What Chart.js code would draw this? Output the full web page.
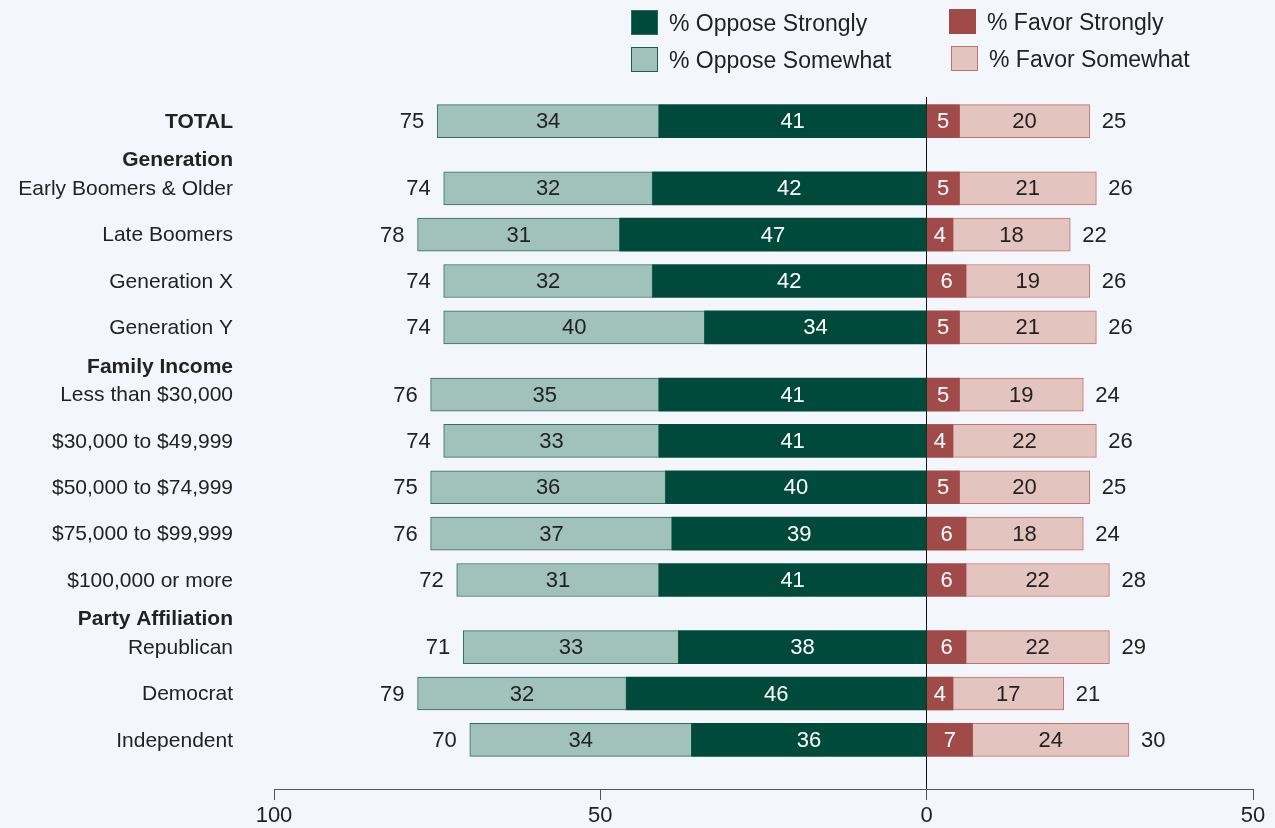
<!DOCTYPE html>
<html>
<head>
<meta charset="utf-8">
<script src="https://cdn.jsdelivr.net/npm/chart.js@4"></script>
<style>
  body { margin: 0; background: #f3f6fb; font-family: "Liberation Sans", Arial, sans-serif; }
  #wrap { position: relative; width: 1275px; height: 828px; }
  #grafico { position: absolute; left: 0; top: 0; }
  .leg { position: absolute; font-size: 23px; color: #222; white-space: nowrap; line-height: 26px; }
  .leg span { display: inline-block; width: 27px; height: 25px; vertical-align: top; margin-right: 11px; box-sizing: border-box; }
</style>
</head>
<body>
<div id="wrap">
  <canvas id="grafico" width="1275" height="828"></canvas>
  <div class="leg" style="left:631px; top:10px;"><span style="background:#004a3b; border:1px solid #2e6b5a;"></span>% Oppose Strongly</div>
  <div class="leg" style="left:631px; top:47px;"><span style="background:#a0c2bb; border:1px solid #1f5e4d;"></span>% Oppose Somewhat</div>
  <div class="leg" style="left:949px; top:9px;"><span style="background:#a04a4a; border:1px solid #a04a4a;"></span>% Favor Strongly</div>
  <div class="leg" style="left:951px; top:46px;"><span style="background:#e3c4bf; border:1px solid #c07370;"></span>% Favor Somewhat</div>
</div>
<script>
const categorias = ['TOTAL', 'Early Boomers & Older', 'Late Boomers', 'Generation X', 'Generation Y',
  'Less than $30,000', '$30,000 to $49,999', '$50,000 to $74,999', '$75,000 to $99,999', '$100,000 or more',
  'Republican', 'Democrat', 'Independent'];
// group headings and the row they sit above
const grupos = [
  { titulo: 'Generation', antes: 1 },
  { titulo: 'Family Income', antes: 5 },
  { titulo: 'Party Affiliation', antes: 10 }
];
const opoeForte = [41, 42, 47, 42, 34, 41, 41, 40, 39, 41, 38, 46, 36];
const opoeAlgo = [34, 32, 31, 32, 40, 35, 33, 36, 37, 31, 33, 32, 34];
const favorForte = [5, 5, 4, 6, 5, 5, 4, 5, 6, 6, 6, 4, 7];
const favorAlgo = [20, 21, 18, 19, 21, 19, 22, 20, 18, 22, 22, 17, 24];
const totalOpoe = [75, 74, 78, 74, 74, 76, 74, 75, 76, 72, 71, 79, 70];
const totalFavor = [25, 26, 22, 26, 26, 24, 26, 25, 24, 28, 29, 21, 30];
const ticksX = [-100, -50, 0, 50];

// row positions: a bit more room where a heading starts
let pos = 0;
const posicoes = categorias.map((c, i) => {
  if (i > 0) pos += grupos.some(g => g.antes === i) ? 1.45 : 1;
  return pos;
});

function pontos(valores, sinal) {
  return valores.map((v, i) => ({ x: sinal * v, y: posicoes[i] }));
}

const fonte = '"Liberation Sans", Arial, sans-serif';

const rotulos = {
  id: 'rotulos',
  afterDatasetsDraw(chart) {
    const ctx = chart.ctx;
    const yScale = chart.scales.y;
    ctx.save();
    ctx.textBaseline = 'middle';
    // values inside the segments
    chart.data.datasets.forEach((ds, d) => {
      const meta = chart.getDatasetMeta(d);
      meta.data.forEach((bar, i) => {
        ctx.font = '22px ' + fonte;
        ctx.fillStyle = ds.corTexto;
        ctx.textAlign = 'center';
        ctx.fillText(String(Math.abs(ds.data[i].x)), (bar.x + bar.base) / 2, bar.y + 1);
      });
    });
    // totals at both ends
    const esq = chart.getDatasetMeta(1).data;
    const dir = chart.getDatasetMeta(3).data;
    ctx.fillStyle = '#222';
    ctx.font = '22px ' + fonte;
    esq.forEach((bar, i) => {
      ctx.textAlign = 'right';
      ctx.fillText(String(totalOpoe[i]), bar.x - 13, bar.y + 1);
    });
    dir.forEach((bar, i) => {
      ctx.textAlign = 'left';
      ctx.fillText(String(totalFavor[i]), bar.x + 12, bar.y + 1);
    });
    // row labels
    categorias.forEach((c, i) => {
      ctx.textAlign = 'right';
      ctx.font = (i === 0 ? 'bold ' : '') + '21px ' + fonte;
      ctx.fillText(c, 233, yScale.getPixelForValue(posicoes[i]) + 1);
    });
    grupos.forEach(g => {
      ctx.textAlign = 'right';
      ctx.font = 'bold 21px ' + fonte;
      ctx.fillText(g.titulo, 233, yScale.getPixelForValue(posicoes[g.antes] - 0.62) + 1);
    });
    ctx.restore();
  }
};

const grafico = document.getElementById('grafico');
new Chart(grafico, {
  type: 'bar',
  data: {
    datasets: [
      { label: '% Oppose Strongly', data: pontos(opoeForte, -1), backgroundColor: '#004a3b', borderColor: '#004a3b', borderWidth: 0, corTexto: '#fff' },
      { label: '% Oppose Somewhat', data: pontos(opoeAlgo, -1), backgroundColor: '#a0c2bb', borderColor: '#2e6e5c', borderWidth: 1, borderSkipped: false, corTexto: '#222' },
      { label: '% Favor Strongly', data: pontos(favorForte, 1), backgroundColor: '#a04a4a', borderColor: '#a04a4a', borderWidth: 0, corTexto: '#fff' },
      { label: '% Favor Somewhat', data: pontos(favorAlgo, 1), backgroundColor: '#e3c4bf', borderColor: '#c07370', borderWidth: 1, borderSkipped: false, corTexto: '#222' }
    ]
  },
  options: {
    indexAxis: 'y',
    responsive: false,
    animation: false,
    barThickness: 33,
    layout: { padding: { left: 274, right: 22, top: 97, bottom: 0 } },
    plugins: { legend: { display: false }, tooltip: { enabled: false } },
    scales: {
      x: {
        type: 'linear',
        stacked: true,
        min: -100,
        max: 50,
        afterBuildTicks: s => { s.ticks = ticksX.map(v => ({ value: v })); },
        afterFit: s => { s.height = 39; },
        ticks: {
          callback: v => String(Math.abs(v)),
          font: { family: fonte, size: 22 },
          color: '#222',
          padding: 3,
          maxRotation: 0
        },
        grid: {
          color: c => (c.tick && c.tick.value === 0) ? '#111' : 'rgba(0,0,0,0)',
          tickColor: '#555',
          tickLength: 11,
          lineWidth: 1
        },
        border: { display: true, color: '#555', width: 1 }
      },
      y: {
        type: 'linear',
        stacked: true,
        reverse: true,
        display: false,
        offset: false,
        min: -0.52,
        max: 14.41
      }
    }
  },
  plugins: [rotulos]
});
</script>
</body>
</html>
